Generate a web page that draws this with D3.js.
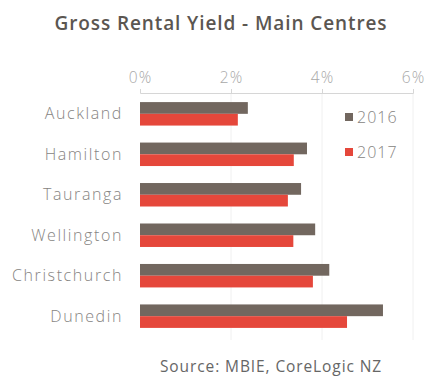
<!DOCTYPE html>
<html>
<head>
<meta charset="utf-8">
<script src="https://cdn.jsdelivr.net/npm/d3@7"></script>
<style>
  body { margin: 0; background: #fff; }
  text { font-family: "Open Sans", sans-serif; }
</style>
</head>
<body>
<div id="chart"></div>
<script>
const cities = ['Auckland', 'Hamilton', 'Tauranga', 'Wellington', 'Christchurch', 'Dunedin'];
const seriesNames = ['2016', '2017'];
const yield2016 = [2.37, 3.67, 3.54, 3.85, 4.16, 5.34];
const yield2017 = [2.15, 3.38, 3.25, 3.37, 3.80, 4.55];
const xTicks = [0, 2, 4, 6];

const colors = { '2016': '#72675f', '2017': '#e5473b' };
const width = 436, height = 391;

const svg = d3.select('#chart').append('svg')
    .attr('width', width)
    .attr('height', height);

// title
svg.append('text')
    .attr('x', 221)
    .attr('y', 30)
    .attr('text-anchor', 'middle')
    .style('font-size', '19px')
    .style('font-weight', '600')
    .style('letter-spacing', '0.9px')
    .style('fill', '#5b5651')
    .text('Gross Rental Yield - Main Centres');

const x = d3.scaleLinear().domain([0, 6]).range([140, 413]);
const y = d3.scaleBand().domain(cities).range([94, 336]).paddingInner(0.42).paddingOuter(0.2);
const ySub = d3.scaleBand().domain(seriesNames).range([0, y.bandwidth()]);

// faint gridlines
svg.append('g')
    .selectAll('line')
    .data(xTicks.slice(1))
    .enter()
    .append('line')
    .attr('x1', d => x(d)).attr('x2', d => x(d))
    .attr('y1', 93).attr('y2', 340)
    .style('stroke', '#f0f0f0');

// top axis
const xAxis = d3.axisTop(x)
    .tickValues(xTicks)
    .tickFormat(d => d + '%')
    .tickSize(4)
    .tickPadding(6);

const axisG = svg.append('g')
    .attr('transform', 'translate(0,93)')
    .call(xAxis);
axisG.select('.domain').style('stroke', '#d6d6d6');
axisG.selectAll('.tick line').style('stroke', '#d6d6d6');
axisG.selectAll('text')
    .style('font-size', '15.5px')
    .style('font-family', '"Open Sans", sans-serif')
    .style('font-weight', '300')
    .style('letter-spacing', '1px')
    .style('fill', '#a8a8a8');

// category labels
svg.selectAll('.city-label')
    .data(cities)
    .enter()
    .append('text')
    .attr('class', 'city-label')
    .attr('x', 123)
    .attr('y', d => y(d) + y.bandwidth() / 2)
    .attr('dy', '0.35em')
    .attr('text-anchor', 'end')
    .style('font-size', '16px')
    .style('font-weight', '300')
    .style('letter-spacing', '1.6px')
    .style('fill', '#868482')
    .text(d => d);

// bars
const seriesData = { '2016': yield2016, '2017': yield2017 };
seriesNames.forEach(s => {
    svg.selectAll('.bar-' + s)
        .data(seriesData[s])
        .enter()
        .append('rect')
        .attr('class', 'bar-' + s)
        .attr('x', x(0))
        .attr('y', (d, i) => y(cities[i]) + ySub(s))
        .attr('width', d => x(d) - x(0))
        .attr('height', ySub.bandwidth())
        .attr('fill', colors[s]);
});

// legend
const legend = svg.selectAll('.legend')
    .data(seriesNames)
    .enter()
    .append('g')
    .attr('class', 'legend')
    .attr('transform', (d, i) => `translate(345,${117 + i * 35})`);
legend.append('rect')
    .attr('x', 0).attr('y', -4)
    .attr('width', 8).attr('height', 8)
    .attr('fill', d => colors[d]);
legend.append('text')
    .attr('x', 12)
    .attr('dy', '0.35em')
    .style('font-size', '16px')
    .style('font-weight', '300')
    .style('letter-spacing', '1px')
    .style('fill', '#868482')
    .text(d => d);

// source
svg.append('text')
    .attr('x', 271)
    .attr('y', 372)
    .attr('text-anchor', 'middle')
    .style('font-size', '15.5px')
    .style('letter-spacing', '0.9px')
    .style('fill', '#666')
    .text('Source: MBIE, CoreLogic NZ');
</script>
</body>
</html>
